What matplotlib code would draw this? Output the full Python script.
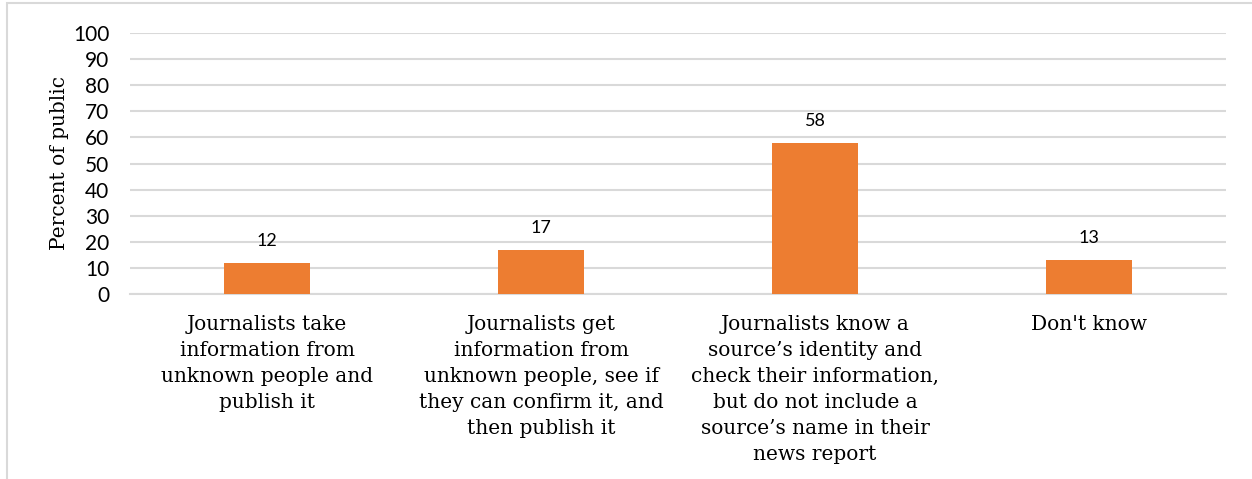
import matplotlib.pyplot as plt
from matplotlib.patches import Rectangle

categories = [
    "Journalists take\ninformation from\nunknown people and\npublish it",
    "Journalists get\ninformation from\nunknown people, see if\nthey can confirm it, and\nthen publish it",
    "Journalists know a\nsource\u2019s identity and\ncheck their information,\nbut do not include a\nsource\u2019s name in their\nnews report",
    "Don't know",
]
values = [12, 17, 58, 13]
y_ticks = list(range(0, 101, 10))

W, H = 1252, 479
fig = plt.figure(figsize=(W / 100, H / 100), dpi=100)
ax = fig.add_axes([130 / W, 1 - 294 / H, (1226 - 130) / W, (294 - 33) / H])

# chart frame (cropped on right/bottom)
fig.patches.append(Rectangle((7 / W, -0.1), 1.2, 1 - 3 / H + 0.1, transform=fig.transFigure,
                             fill=False, edgecolor='#d9d9d9', linewidth=1.5))

x = range(len(values))
bars = ax.bar(x, values, width=0.314, color='#ED7D31', zorder=3)
for b, v in zip(bars, values):
    ax.annotate(str(v), xy=(b.get_x() + b.get_width() / 2, v), xytext=(0, 10),
                textcoords='offset points', ha='center', va='bottom',
                fontsize=13, family='Lato', color='#000000')

ax.set_xlim(-0.5, len(values) - 0.5)
ax.set_ylim(0, 100)
ax.set_yticks(y_ticks)
ax.yaxis.grid(True, color='#d9d9d9', linewidth=1.5, zorder=0)
ax.set_axisbelow(True)
for s in ['top', 'right', 'left']:
    ax.spines[s].set_visible(False)
ax.spines['bottom'].set_color('#d9d9d9')
ax.spines['bottom'].set_linewidth(1.5)
ax.tick_params(axis='y', length=0, pad=15, labelsize=15)
ax.tick_params(axis='x', length=0, pad=15)
for lab in ax.get_yticklabels():
    lab.set_family('Lato')
ax.set_xticks(list(x))
ax.set_xticklabels(categories, fontsize=14.5, family='DejaVu Serif', linespacing=1.47, va='top')
ax.set_ylabel("Percent of public", fontsize=14.5, family='DejaVu Serif', labelpad=3)

fig.savefig('out.png', dpi=100)
